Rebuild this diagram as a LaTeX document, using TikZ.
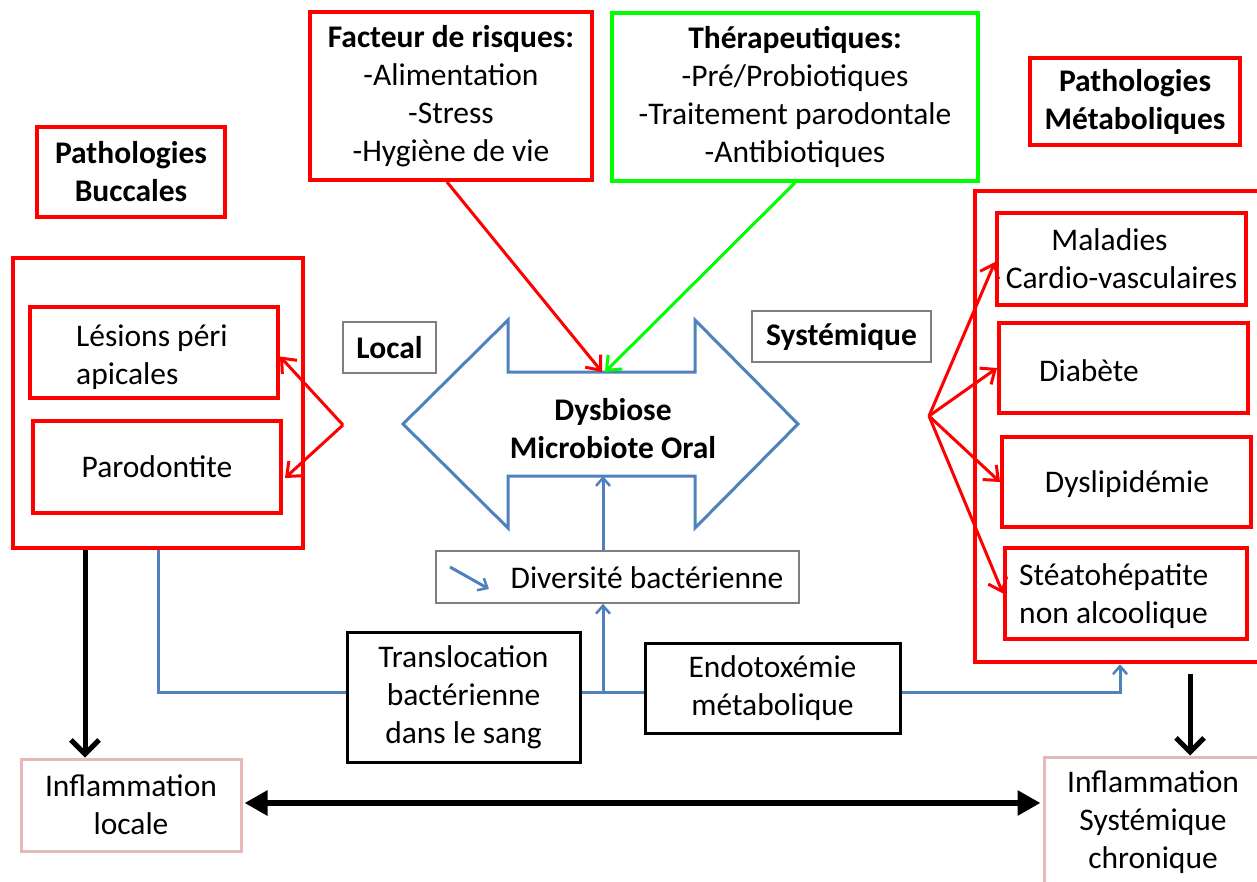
\documentclass[tikz,border=0pt]{standalone}
\usepackage{fontspec}
\setmainfont{Carlito}
\usetikzlibrary{arrows.meta,calc}
\newcommand\txtf{\fontsize{31.5}{38}\selectfont}
\definecolor{myblue}{HTML}{4F81BD}
\definecolor{mygray}{HTML}{7F7F7F}
\definecolor{mypink}{HTML}{E6B9B8}
\definecolor{mygreen}{HTML}{00FF00}
\begin{document}
\begin{tikzpicture}[x=1pt,y=-1pt,
  box/.style={draw, inner sep=0pt, align=center, font=\txtf},
  redbox/.style={box, draw=red, line width=4pt},
  greenbox/.style={box, draw=mygreen, line width=3.5pt},
  graybox/.style={box, draw=mygray, line width=1.5pt},
  blackbox/.style={box, draw=black, line width=3pt},
  pinkbox/.style={box, draw=mypink, line width=3pt},
  txt/.style={inner sep=0pt, font=\txtf},
  redarr/.style={draw=red, line width=3pt, -{Straight Barb[length=12pt,width=20pt,line width=3pt]}},
  greenarr/.style={draw=mygreen, line width=3pt, -{Straight Barb[length=12pt,width=20pt,line width=3pt]}},
  bluearr/.style={draw=myblue, line width=3pt, -{Straight Barb[length=8pt,width=14pt,line width=2.5pt]}},
  bluel/.style={draw=myblue, line width=3pt},
  blackarr/.style={draw=black, line width=5pt, -{Straight Barb[length=14pt,width=28pt,line width=5pt]}},
  dblarr/.style={draw=black, line width=6pt, {Triangle[length=23pt,width=24pt]}-{Triangle[length=23pt,width=24pt]}}
]
\useasboundingbox (0,0) rectangle (1257,881);

% top boxes
\node[redbox, minimum width=282pt, minimum height=168pt] (fact) at (451,96)
  {\textbf{Facteur de risques:}\\-Alimentation\\-Stress\\-Hygiène de vie};
\node[greenbox, minimum width=366pt, minimum height=168pt] (ther) at (795,97)
  {\textbf{Thérapeutiques:}\\-Pré/Probiotiques\\-Traitement parodontale\\-Antibiotiques};
\node[redbox, minimum width=210pt, minimum height=87pt] (pmeta) at (1135,101.5)
  {\textbf{Pathologies}\\\textbf{Métaboliques}};
\node[redbox, minimum width=188pt, minimum height=90pt] (pbuc) at (131,172)
  {\textbf{Pathologies}\\\textbf{Buccales}};

% left group
\node[redbox, minimum width=290pt, minimum height=290pt] (lbig) at (158,403) {};
\node[redbox, minimum width=248pt, minimum height=91pt] (les) at (154,352.5) {};
\node[txt, anchor=west, align=left] (lestxt) at (76,357) {Lésions péri\\apicales};
\node[redbox, minimum width=248pt, minimum height=92pt] (paro) at (157,467) {Parodontite};
\coordinate (lfan) at (343,425);
\draw[redarr] (lfan) -- ($(les.east)+(0,4)$);
\draw[redarr] (lfan) -- ($(paro.east)+(2,11)$);

\node[graybox, minimum width=93pt, minimum height=51pt] (local) at (389.5,347.5) {\textbf{Local}};
\node[graybox, minimum width=179pt, minimum height=51pt] (syst) at (841.5,336.5) {\textbf{Systémique}};

% central double arrow
\draw[myblue, line width=3pt, line join=miter]
  (403,424) -- (508,320) -- (508,372) -- (695,372) -- (695,320) -- (798,424)
  -- (695,528) -- (695,476) -- (508,476) -- (508,528) -- cycle;
\node[txt, align=center] (dys) at (613,429) {\textbf{Dysbiose}\\\textbf{Microbiote Oral}};
\coordinate (shtop) at (602,372);
\coordinate (shbot) at (603,476);

\draw[redarr] ($(fact.south)+(-4,0)$) -- (shtop);
\draw[greenarr] (ther.south) -- ($(shtop)+(3,0)$);

% diversite
\node[graybox, minimum width=363pt, minimum height=52pt] (div) at (617.5,577) {};
\node[txt] (divtxt) at (647,578) {Diversité bactérienne};
\coordinate (da) at (450,567);
\coordinate (db) at (489,589);
\draw[bluearr] (da) -- (db);
\draw[bluearr] (div.north -| shbot) -- (shbot);

% right group
\node[redbox, minimum width=290pt, minimum height=471pt, line width=4.5pt] (rbig) at (1120,426.5) {};
\node[redbox, minimum width=249pt, minimum height=92pt] (mal) at (1121.5,259) {Maladies\hspace*{24pt}\\Cardio-vasculaires};
\node[redbox, minimum width=249pt, minimum height=90pt] (diab) at (1123.5,368) {};
\node[txt] (diabtxt) at (1089,371) {Diabète};
\node[redbox, minimum width=249pt, minimum height=90pt] (dysl) at (1126.5,482) {};
\node[txt] (dysltxt) at (1127,484) {Dyslipidémie};
\node[redbox, minimum width=242pt, minimum height=91pt] (stea) at (1126,593.5) {};
\node[txt, anchor=west, align=left] (steatxt) at (1019,596) {Stéatohépatite\\non alcoolique};
\coordinate (rfan) at (929,416);
\draw[redarr] (rfan) -- ($(mal.west)+(0,3)$);
\draw[redarr] (rfan) -- (diab.west);
\draw[redarr] (rfan) -- (dysl.west);
\draw[redarr] (rfan) -- (stea.west);

% blue bottom line
\node[blackbox, minimum width=233pt, minimum height=130pt] (trans) at (463.5,697)
  {Translocation\\bactérienne\\dans le sang};
\node[blackbox, minimum width=255pt, minimum height=90pt] (endo) at (772.5,688)
  {Endotoxémie\\métabolique};
\coordinate (bluey) at (0,692);
\draw[bluel] (lbig.south) |- (trans.west |- bluey);
\draw[bluel] (trans.east |- bluey) -- (endo.west |- bluey);
\draw[bluearr] (endo.east |- bluey) -| (rbig.south);
\draw[bluearr] (shbot |- bluey) -- (div.south -| shbot);

% inflammation
\node[pinkbox, minimum width=220pt, minimum height=92pt] (infl) at (131,805) {Inflammation\\locale};
\node[pinkbox, minimum width=218pt, minimum height=130pt] (infs) at (1153,822) {Inflammation\\Systémique\\chronique};
\draw[blackarr] (lbig.south -| 85,0) -- (infl.north -| 85,0);
\draw[blackarr] ($(rbig.south -| 1190,0)+(0,10)$) -- (infs.north -| 1190,0);
\draw[dblarr] ($(infl.east)+(2,-2)$) -- ($(infl.east -| infs.west)+(-2,-2)$);
\end{tikzpicture}
\end{document}
